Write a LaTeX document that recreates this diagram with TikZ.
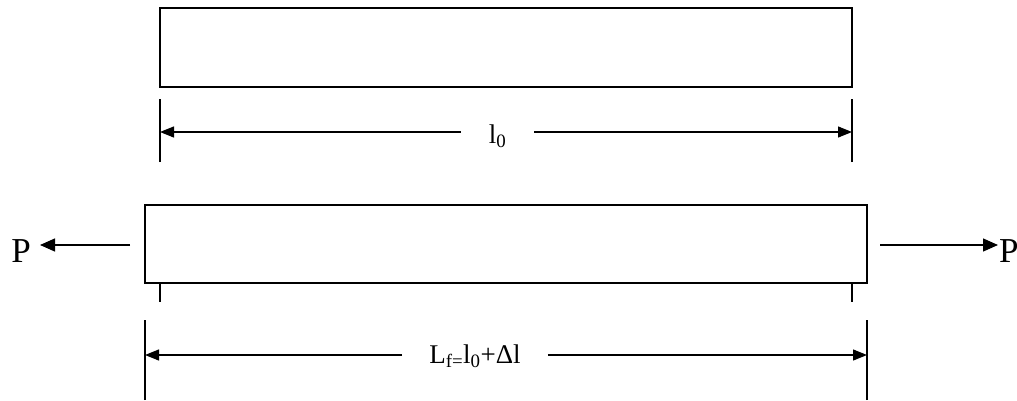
\documentclass[tikz,border=0pt]{standalone}
\usepackage{fontspec}
\setmainfont{Liberation Serif}
\usetikzlibrary{arrows.meta,positioning,calc}

\tikzset{
  bar/.style={draw, line width=1.6pt, inner sep=0pt},
  dim/.style={line width=1.2pt, -{Triangle[length=14pt,width=11pt]}},
  tick/.style={line width=1.4pt},
  force/.style={line width=1.3pt, -{Triangle[length=15pt,width=13pt]}},
  dimlabel/.style={font=\fontsize{27}{30}\selectfont, inner ysep=0pt},
  load/.style={font=\fontsize{35}{38}\selectfont, inner sep=0pt},
}

\begin{document}
\begin{tikzpicture}[x=1pt, y=1pt, line cap=butt, line join=miter]
\useasboundingbox (0,0) rectangle (1017,400);

% original bar
\node[bar, minimum width=692pt, minimum height=79pt] (bar0) at (506,352.5) {};

% length l0
\coordinate (t0L) at (160,268);
\coordinate (t0R) at (852,268);
\draw[tick] (160,238) -- (160,301);
\draw[tick] (852,238) -- (852,301);
\node[dimlabel, inner xsep=28pt, anchor=base] (lab0) at (497.5,257) {l\textsubscript{0}};
\draw[dim] (lab0.west |- t0L) -- (t0L);
\draw[dim] (lab0.east |- t0R) -- (t0R);

% stretched bar
\node[bar, minimum width=722pt, minimum height=78pt] (bar1) at (506,156) {};
\draw[tick] (bar1.south -| t0L) -- ++(0,-18);
\draw[tick] (bar1.south -| t0R) -- ++(0,-18);

% loads
\node[load, anchor=base east] (pL) at (31,138) {P};
\node[load, anchor=base west] (pR) at (999,138) {P};
\coordinate (fL) at (130,155);
\coordinate (fR) at (880,155);
\draw[force] (fL) -- ([xshift=9pt]pL.east |- fL);
\draw[force] (fR) -- ([xshift=-1pt]pR.west |- fR);

% length Lf
\coordinate (t1L) at (145,45);
\coordinate (t1R) at (867,45);
\draw[tick] (145,0) -- (145,80);
\draw[tick] (867,0) -- (867,80);
\node[dimlabel, inner xsep=27pt, anchor=base] (lab1) at (475,37) {L\textsubscript{f=}l\textsubscript{0}+Δl};
\draw[dim] (lab1.west |- t1L) -- (t1L);
\draw[dim] (lab1.east |- t1R) -- (t1R);

\end{tikzpicture}
\end{document}
